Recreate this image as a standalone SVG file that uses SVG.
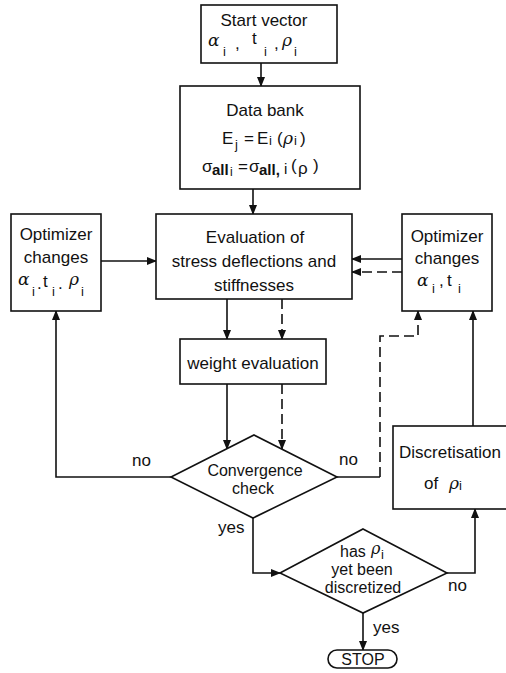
<svg xmlns="http://www.w3.org/2000/svg" width="506" height="673" viewBox="0 0 506 673">
  <style>
    .box { fill: #fff; stroke: #111; stroke-width: 1.6; }
    .ln { fill: none; stroke: #111; stroke-width: 1.6; }
    .dash { fill: none; stroke: #111; stroke-width: 1.6; stroke-dasharray: 10 5; }
    text { font-family: "Liberation Sans", Arial, sans-serif; font-size: 17px; fill: #111; }
    .c { text-anchor: middle; }
    .g { font-family: "DejaVu Serif", "Liberation Serif", serif; font-style: italic; }
    .s { font-size: 13px; }
    .d { font-size: 16px; }
    .sb { font-size: 15px; font-weight: bold; }
  </style>
  <defs>
    <marker id="arr" markerWidth="10" markerHeight="8" refX="9" refY="4" orient="auto" markerUnits="userSpaceOnUse">
      <path d="M0,0 L10,4 L0,8 Z" fill="#111"/>
    </marker>
  </defs>
  <rect width="506" height="673" fill="#fff"/>

  <g id="connectors">
    <line class="ln" x1="261" y1="63" x2="261" y2="86" marker-end="url(#arr)"/>
    <line class="ln" x1="253" y1="189" x2="253" y2="214" marker-end="url(#arr)"/>
    <line class="ln" x1="101" y1="261" x2="156" y2="261" marker-end="url(#arr)"/>
    <line class="ln" x1="402" y1="259" x2="352" y2="259" marker-end="url(#arr)"/>
    <line class="dash" x1="402" y1="272" x2="352" y2="272" marker-end="url(#arr)"/>
    <line class="ln" x1="227" y1="299" x2="227" y2="339" marker-end="url(#arr)"/>
    <line class="dash" x1="282" y1="299" x2="282" y2="339" marker-end="url(#arr)"/>
    <line class="ln" x1="227" y1="384" x2="227" y2="449" marker-end="url(#arr)"/>
    <line class="dash" x1="282" y1="384" x2="282" y2="449" marker-end="url(#arr)"/>
    <polyline class="ln" points="171,477 56,477 56,311" marker-end="url(#arr)"/>
    <line class="ln" x1="337" y1="477" x2="380" y2="477"/>
    <polyline class="dash" points="380,477 380,336 418,336 418,311" marker-end="url(#arr)"/>
    <line class="ln" x1="473" y1="426" x2="473" y2="311" marker-end="url(#arr)"/>
    <polyline class="ln" points="253,518 253,573 280,573" marker-end="url(#arr)"/>
    <polyline class="ln" points="447,573 475,573 475,509" marker-end="url(#arr)"/>
    <line class="ln" x1="363" y1="613" x2="363" y2="650" marker-end="url(#arr)"/>
    <text x="132" y="466">no</text>
    <text x="339" y="465">no</text>
    <text x="218" y="533">yes</text>
    <text x="448" y="591">no</text>
    <text x="373" y="633">yes</text>
  </g>

  <g id="start">
    <rect class="box" x="201" y="5" width="136" height="58"/>
    <text class="c" x="264" y="26">Start vector</text>
    <text class="g" x="208" y="46">α</text>
    <text class="s" x="223" y="56">i</text>
    <text x="235" y="49">,</text>
    <text x="252" y="44">t</text>
    <text class="s" x="264" y="56">i</text>
    <text x="274" y="49">,</text>
    <text class="g" x="282" y="46">ρ</text>
    <text class="s" x="294" y="56">i</text>
  </g>

  <g id="databank">
    <rect class="box" x="180" y="86" width="180" height="103"/>
    <text class="c" x="265" y="116">Data bank</text>
    <text x="222" y="144">E</text>
    <text class="s" x="235" y="149">j</text>
    <text x="244" y="144">=</text>
    <text x="257" y="144">E</text>
    <text class="s" x="269" y="145">i</text>
    <text x="277" y="144">(</text>
    <text class="g" x="283" y="144">ρ</text>
    <text class="s" x="294" y="145">i</text>
    <text x="300" y="144">)</text>
    <text x="202" y="172">σ</text>
    <text class="sb" x="212" y="175">all</text>
    <text x="230" y="176" style="font-size:12px">i</text>
    <text x="238" y="172">=</text>
    <text x="249" y="172">σ</text>
    <text class="sb" x="259" y="175">all,</text>
    <text x="284" y="174" style="font-size:15px">i</text>
    <text x="291" y="171">(</text>
    <text x="298" y="174">ρ</text>
    <text x="313" y="171">)</text>
  </g>

  <g id="evaluation">
    <rect class="box" x="156" y="214" width="196" height="85"/>
    <text class="c" x="255" y="243">Evaluation of</text>
    <text class="c" x="254" y="267">stress deflections and</text>
    <text class="c" x="254" y="291">stiffnesses</text>
  </g>

  <g id="optimizer-left">
    <rect class="box" x="11" y="214" width="90" height="97"/>
    <text class="c" x="56" y="240">Optimizer</text>
    <text class="c" x="56" y="263">changes</text>
    <text class="g" x="18" y="285">α</text>
    <text class="s" x="32" y="296">i</text>
    <text x="37" y="289">.</text>
    <text x="43" y="287">t</text>
    <text class="s" x="52" y="296">i</text>
    <text x="58" y="289">.</text>
    <text class="g" x="69" y="285">ρ</text>
    <text class="s" x="81" y="296">i</text>
  </g>

  <g id="optimizer-right">
    <rect class="box" x="402" y="214" width="90" height="97"/>
    <text class="c" x="447" y="242">Optimizer</text>
    <text class="c" x="447" y="264">changes</text>
    <text class="g" x="417" y="286">α</text>
    <text class="s" x="432" y="293">i</text>
    <text x="439" y="286">,</text>
    <text x="447" y="286">t</text>
    <text class="s" x="458" y="293">i</text>
  </g>

  <g id="weight">
    <rect class="box" x="180" y="339" width="146" height="45"/>
    <text class="c" x="253" y="369">weight evaluation</text>
  </g>

  <g id="convergence">
    <polygon class="box" points="254,435 337,477 253,518 171,477"/>
    <text class="c d" x="255" y="476">Convergence</text>
    <text class="c d" x="253" y="494">check</text>
  </g>

  <g id="discretisation">
    <rect class="box" x="393" y="426" width="130" height="83"/>
    <text x="399" y="458">Discretisation</text>
    <text x="424" y="489">of</text>
    <text class="g" x="449" y="489">ρ</text>
    <text class="s" x="459" y="490">i</text>
  </g>

  <g id="discretized-check">
    <polygon class="box" points="363,529 447,573 363,613 280,573"/>
    <text class="d" x="340" y="557">has</text>
    <text class="g d" x="371" y="554">ρ</text>
    <text class="s" x="381" y="559">i</text>
    <text class="c d" x="362" y="575">yet been</text>
    <text class="c d" x="363" y="593">discretized</text>
  </g>

  <g id="stop">
    <rect class="box" x="328" y="650" width="69" height="18" rx="9"/>
    <text class="c" x="363" y="665" style="font-size:16px">STOP</text>
  </g>
</svg>
